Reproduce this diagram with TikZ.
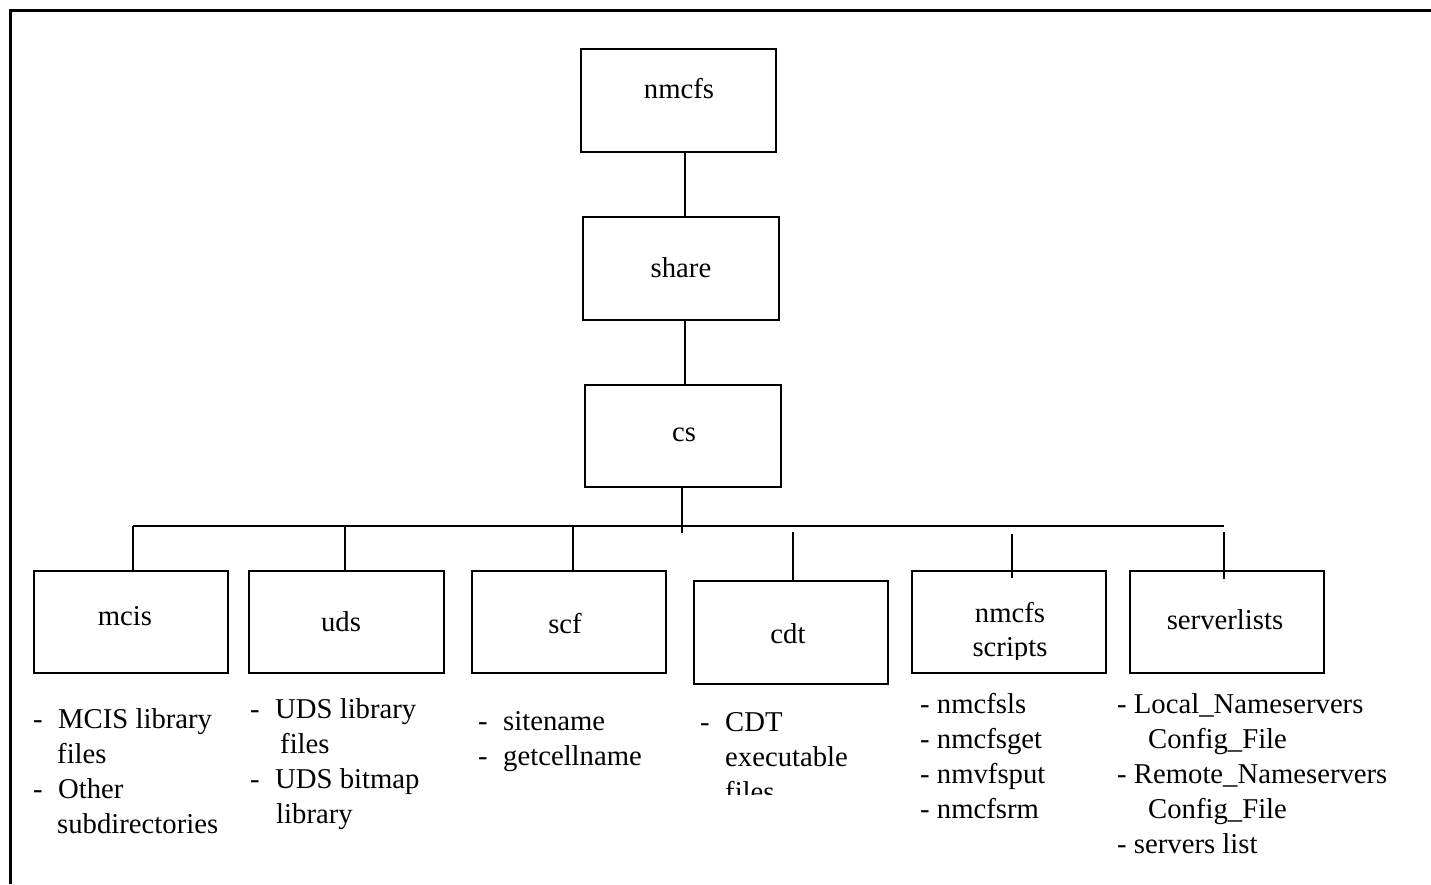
\documentclass[tikz,border=0pt]{standalone}
\usepackage{fontspec}
\setmainfont{Liberation Serif}
\newcommand\fs{\fontsize{28.7}{35}\selectfont}
\newcommand\mylines[1]{\vtop{\baselineskip=35pt\lineskiplimit=-100pt\relax #1}}
\newcommand\dashline[2]{\hbox{\makebox[#1][l]{-}#2}}
\newcommand\indline[2]{\hbox{\kern#1\relax #2}}
\newcommand\ctrline[1]{\hbox to 140pt{\hfil #1\hfil}}
\begin{document}
\begin{tikzpicture}[x=1pt,y=-1pt,
  box/.style={draw, line width=2pt, minimum width=#1, minimum height=103pt, inner sep=0pt},
  box/.default=195pt,
  lbl/.style={anchor=base, inner sep=0pt, font=\fs},
  lst/.style={anchor=base west, inner sep=0pt, font=\fs, align=left},
  conn/.style={line width=2pt},
  frame/.style={line width=3pt}]
\useasboundingbox (0,0) rectangle (1431,884);
% outer frame
\coordinate (fbl) at (10,884);
\coordinate (ftl) at (10,10);
\coordinate (ftr) at (1431,10);
\draw[frame] (fbl) -- (ftl) -- (ftr);

% top chain
\node[box=195pt] (nmcfs) at (678.5,100.5) {};
\node[box=196pt] (share) at (681,268.5) {};
\node[box=196pt, minimum height=102pt] (cs) at (683,436) {};
\node[lbl] (lnmcfs) at (679,98) {nmcfs};
\node[lbl] (lshare) at (681,277) {share};
\node[lbl] (lcs) at (684,441) {cs};

\coordinate (trunk) at (685,0);
\draw[conn] (nmcfs.south -| trunk) -- (share.north -| trunk);
\draw[conn] (share.south -| trunk) -- (cs.north -| trunk);

% bus
\coordinate (busL) at (133,526);
\coordinate (busR) at (1224,526);
\coordinate (csend) at (682,533);
\draw[conn] (busL) -- (busR);
\draw[conn] (cs.south -| csend) -- (csend);

% child boxes
\node[box=194pt, minimum height=102pt] (mcis) at (131,622) {};
\node[box=195pt, minimum height=102pt] (uds) at (346.5,622) {};
\node[box=194pt, minimum height=102pt] (scf) at (569,622) {};
\node[box=194pt, minimum height=103pt] (cdt) at (791,632) {};
\node[box=194pt, minimum height=102pt] (nscr) at (1009,621.5) {};
\node[box=194pt, minimum height=102pt] (srv) at (1227,621.5) {};

\node[lbl] (lmcis) at (125,625) {mcis};
\node[lbl] (luds) at (341,631) {uds};
\node[lbl] (lscf) at (565,633) {scf};
\node[lbl] (lcdt) at (788,643) {cdt};
\begin{scope}
  \clip (912,560) rectangle (1106,659);
  \node[anchor=base, inner sep=0pt, font=\fs] (lnscr) at (1010,622)
    {\vtop{\baselineskip=34pt\lineskiplimit=-100pt\relax\ctrline{nmcfs}\ctrline{scripts}}};
\end{scope}
\node[lbl] (lsrv) at (1225,629) {serverlists};

% branches
\coordinate (bmcis) at (133,526);
\coordinate (buds) at (345,526);
\coordinate (bscf) at (573,526);
\coordinate (bcdt) at (793,532);
\coordinate (bnscr) at (1012,534);
\coordinate (bsrv) at (1224,532);
\coordinate (ensc) at (1012,578);
\coordinate (esrv) at (1224,579);
\draw[conn] (bmcis) -- (mcis.north -| bmcis);
\draw[conn] (buds) -- (uds.north -| buds);
\draw[conn] (bscf) -- (scf.north -| bscf);
\draw[conn] (bcdt) -- (cdt.north -| bcdt);
\draw[conn] (bnscr) -- (ensc);
\draw[conn] (bsrv) -- (esrv);

% lists
\node[lst] (tmcis) at (33,728) {\mylines{%
  \dashline{25pt}{MCIS library}
  \indline{24pt}{files}
  \dashline{25pt}{Other}
  \indline{24pt}{subdirectories}}};
\node[lst] (tuds) at (250,718) {\mylines{%
  \dashline{25pt}{UDS library}
  \indline{30pt}{files}
  \dashline{25pt}{UDS bitmap}
  \indline{26pt}{library}}};
\node[lst] (tscf) at (478,730) {\mylines{%
  \dashline{25pt}{sitename}
  \dashline{25pt}{getcellname}}};
\begin{scope}
  \clip (690,690) rectangle (890,794);
  \node[lst] (tcdt) at (700,731) {\mylines{%
    \dashline{25pt}{CDT}
    \indline{25pt}{executable}
    \indline{25pt}{files}}};
\end{scope}
\node[lst] (tnscr) at (920,713) {\mylines{%
  \hbox{- nmcfsls}
  \hbox{- nmcfsget}
  \hbox{- nmvfsput}
  \hbox{- nmcfsrm}}};
\node[lst] (tsrv) at (1117,713) {\mylines{%
  \hbox{- Local\_Nameservers}
  \indline{31pt}{Config\_File}
  \hbox{- Remote\_Nameservers}
  \indline{31pt}{Config\_File}
  \hbox{- servers list}}};
\end{tikzpicture}
\end{document}
